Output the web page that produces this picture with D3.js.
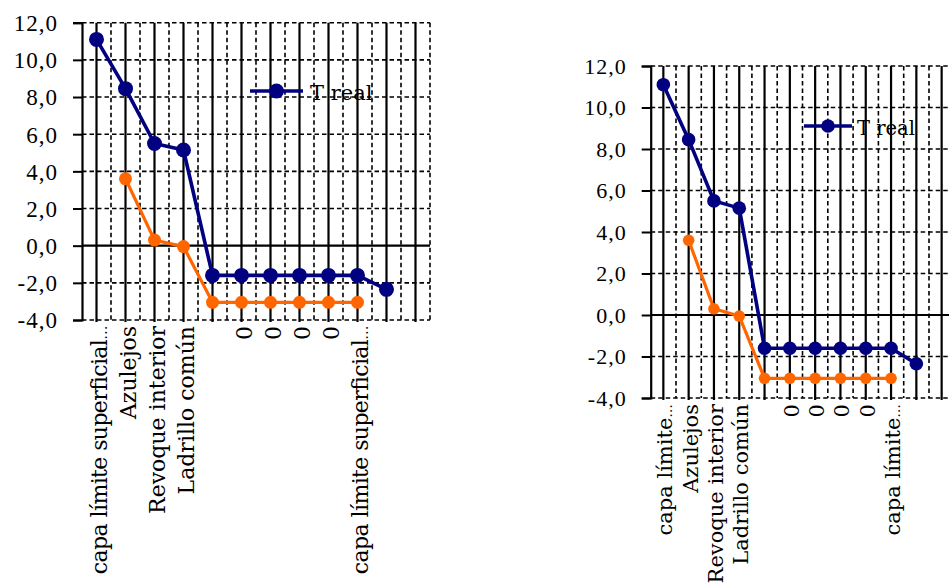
<!DOCTYPE html>
<html>
<head>
<meta charset="utf-8">
<script src="https://cdn.jsdelivr.net/npm/d3@7"></script>
<style>
  html, body { margin: 0; padding: 0; background: #fff; }
  svg { display: block; }
  text { fill: #000; }
</style>
</head>
<body>
<svg id="chart" width="949" height="585"></svg>
<script>
// --- data ---
var categoriesLeft = ["capa límite superficial…", "Azulejos", "Revoque interior", "Ladrillo común", "",
                      "0", "0", "0", "0", "capa límite superficial…", "", ""];
var categoriesRight = ["capa límite…", "Azulejos", "Revoque interior", "Ladrillo común", "",
                       "0", "0", "0", "0", "capa límite…", "", ""];
var tReal  = [11.1, 8.45, 5.5, 5.15, -1.6, -1.6, -1.6, -1.6, -1.6, -1.6, -2.35, null];
var tOther = [null, 3.6, 0.3, -0.05, -3.05, -3.05, -3.05, -3.05, -3.05, -3.05, null, null];
var yTicks = [-4, -2, 0, 2, 4, 6, 8, 10, 12];
var legendLabel = "T real";

var BLUE = "#000080", ORANGE = "#ff6600";
var TICK_FONT = "Liberation Serif, serif";
var LABEL_FONT = "DejaVu Serif, serif";

var svg = d3.select("#chart");

// the two copies of the chart only differ in size
drawChart({
  categories: categoriesLeft,
  left: 82, right: 430, top: 22.7, bottom: 320,
  tickFont: 23, catFont: 22, catShift: 10, catTop: 326, truncSpacing: -0.6,
  rBlue: 7.5, rOrange: 6.5,
  legend: { x1: 250, x2: 303, y: 91, tx: 310, ty: 100, font: 21 }
});
drawChart({
  categories: categoriesRight,
  left: 650.7, right: 954.3, top: 66, bottom: 398,
  tickFont: 22, catFont: 21, catShift: 9, catTop: 404, truncSpacing: 0,
  rBlue: 6.8, rOrange: 5.8,
  legend: { x1: 804, x2: 852, y: 126, tx: 857, ty: 135, font: 19.5 }
});

function drawChart(cfg) {
  var g = svg.append("g");

  var x = d3.scaleBand()
    .domain(d3.range(cfg.categories.length))
    .range([cfg.left, cfg.right])
    .padding(0);

  var y = d3.scaleLinear()
    .domain([-4, 12])
    .range([cfg.bottom, cfg.top]);

  var cx = function(i) { return x(i) + x.bandwidth() / 2; };

  // horizontal dashed gridlines (0 is drawn solid later as the category axis)
  g.append("g").selectAll("line")
    .data(yTicks.filter(function(d) { return d !== 0; }))
    .join("line")
      .attr("x1", cfg.left).attr("x2", cfg.right)
      .attr("y1", function(d) { return y(d); })
      .attr("y2", function(d) { return y(d); })
      .attr("stroke", "#000").attr("stroke-width", 1.6)
      .attr("stroke-dasharray", "4.5,3");

  // vertical dashed lines at category boundaries
  g.append("g").selectAll("line")
    .data(d3.range(1, cfg.categories.length + 1))
    .join("line")
      .attr("x1", function(i) { return cfg.left + i * x.bandwidth(); })
      .attr("x2", function(i) { return cfg.left + i * x.bandwidth(); })
      .attr("y1", cfg.top).attr("y2", cfg.bottom)
      .attr("stroke", "#000").attr("stroke-width", 1.6)
      .attr("stroke-dasharray", "4.5,3");

  // vertical solid lines through each category
  g.append("g").selectAll("line")
    .data(d3.range(cfg.categories.length))
    .join("line")
      .attr("x1", cx).attr("x2", cx)
      .attr("y1", cfg.top).attr("y2", cfg.bottom + 2)
      .attr("stroke", "#000").attr("stroke-width", 2.2);

  // category axis crossing at 0
  g.append("line")
    .attr("x1", cfg.left).attr("x2", cfg.right)
    .attr("y1", y(0)).attr("y2", y(0))
    .attr("stroke", "#000").attr("stroke-width", 2.2);

  // value axis
  var yAxis = d3.axisLeft(y)
    .tickValues(yTicks)
    .tickSize(9)
    .tickPadding(0)
    .tickFormat(function(d) { return d3.format(".1f")(d).replace(".", ",").replace("−", "-"); });

  var ya = g.append("g")
    .attr("transform", "translate(" + cfg.left + ",0)")
    .call(yAxis);
  ya.select(".domain").attr("stroke", "#000").attr("stroke-width", 2.2);
  ya.selectAll(".tick line").attr("stroke", "#000").attr("stroke-width", 2);
  ya.selectAll(".tick text")
    .attr("x", -24)
    .attr("dy", "0.34em")
    .style("font-family", TICK_FONT)
    .style("font-size", cfg.tickFont + "px")
    .style("letter-spacing", "1px")
    .attr("fill", "#000");

  // rotated category labels; the trailing ellipsis is set smaller like the original
  var labels = g.append("g").selectAll("text")
    .data(cfg.categories)
    .join("text")
      .attr("transform", function(d, i) {
        return "translate(" + (cx(i) + cfg.catShift) + "," + cfg.catTop + ") rotate(-90)";
      })
      .attr("text-anchor", "end")
      .style("font-family", LABEL_FONT)
      .style("font-size", cfg.catFont + "px");

  labels.each(function(d) {
    var t = d3.select(this);
    if (d.slice(-1) === "…") {
      t.style("letter-spacing", cfg.truncSpacing + "px");
      t.append("tspan").text(d.slice(0, -1));
      t.append("tspan").style("font-size", (cfg.catFont * 0.65) + "px").text("…");
    } else {
      t.text(d);
    }
  });

  // series
  var series = [
    { values: tOther, color: ORANGE, width: 3.2, r: cfg.rOrange },
    { values: tReal,  color: BLUE,   width: 3.6, r: cfg.rBlue }
  ];

  var line = d3.line()
    .defined(function(d) { return d !== null; })
    .x(function(d, i) { return cx(i); })
    .y(function(d) { return y(d); });

  series.forEach(function(s) {
    g.append("path")
      .datum(s.values)
      .attr("d", line)
      .attr("fill", "none")
      .attr("stroke", s.color)
      .attr("stroke-width", s.width)
      .attr("stroke-linejoin", "round");

    g.append("g").selectAll("circle")
      .data(s.values.map(function(v, i) { return { v: v, i: i }; })
                    .filter(function(d) { return d.v !== null; }))
      .join("circle")
        .attr("cx", function(d) { return cx(d.i); })
        .attr("cy", function(d) { return y(d.v); })
        .attr("r", s.r)
        .attr("fill", s.color);
  });

  // legend (only the blue series is listed)
  var lg = g.append("g");
  lg.append("line")
    .attr("x1", cfg.legend.x1).attr("x2", cfg.legend.x2)
    .attr("y1", cfg.legend.y).attr("y2", cfg.legend.y)
    .attr("stroke", BLUE).attr("stroke-width", 3.6);
  lg.append("circle")
    .attr("cx", (cfg.legend.x1 + cfg.legend.x2) / 2)
    .attr("cy", cfg.legend.y)
    .attr("r", cfg.rBlue)
    .attr("fill", BLUE);
  lg.append("text")
    .attr("x", cfg.legend.tx)
    .attr("y", cfg.legend.ty)
    .style("font-family", LABEL_FONT)
    .style("font-size", cfg.legend.font + "px")
    .text(legendLabel);
}
</script>
</body>
</html>
